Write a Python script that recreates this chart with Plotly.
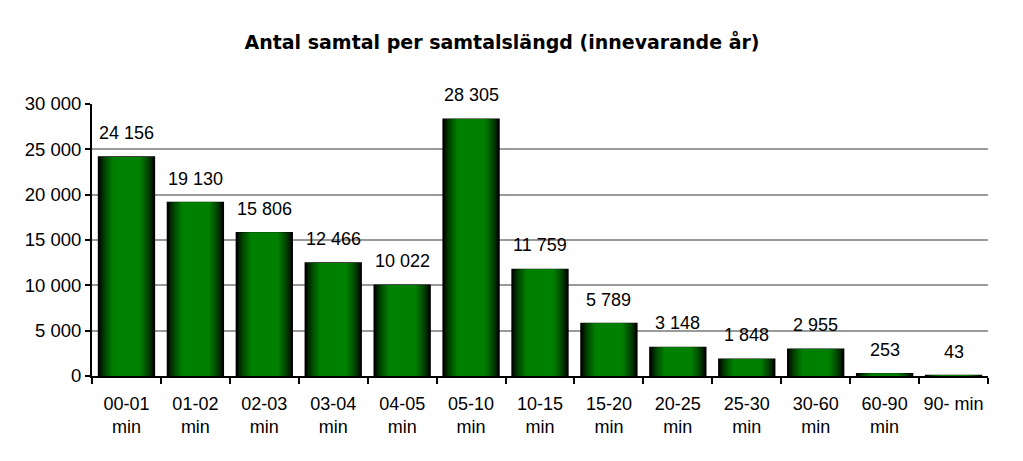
import plotly.graph_objects as go

categories = ["00-01<br>min", "01-02<br>min", "02-03<br>min", "03-04<br>min", "04-05<br>min",
              "05-10<br>min", "10-15<br>min", "15-20<br>min", "20-25<br>min", "25-30<br>min",
              "30-60<br>min", "60-90<br>min", "90- min"]
values = [24156, 19130, 15806, 12466, 10022, 28305, 11759, 5789, 3148, 1848, 2955, 253, 43]
tick_vals = [0, 5000, 10000, 15000, 20000, 25000, 30000]
tick_text = ["0", "5 000", "10 000", "15 000", "20 000", "25 000", "30 000"]
title = "Antal samtal per samtalslängd (innevarande år)"

font = "Liberation Sans, Arial, sans-serif"
fig = go.Figure()

# gradient bars simulated with layered overlaid bars
n_layers = 12
outer_w = 0.81
inner_w = 0.40
for i in range(n_layers):
    t = i / (n_layers - 1)
    w = outer_w - (outer_w - inner_w) * t
    g = int(round(0 + 128 * (t ** 0.7)))
    col = f"rgb(0,{g},0)"
    fig.add_trace(go.Bar(
        x=categories, y=values, width=w,
        marker=dict(color=col,
                    line=dict(color="black", width=1.5 if i == 0 else 0)),
        hoverinfo="skip", showlegend=False,
    ))

def fmt(v):
    return f"{v:,}".replace(",", " ")

for c, v in zip(categories, values):
    fig.add_annotation(x=c, y=v, text=fmt(v), showarrow=False,
                       yanchor="bottom", yshift=12,
                       font=dict(family=font, size=18, color="black"))

fig.update_layout(
    barmode="overlay",
    width=1023, height=461,
    margin=dict(l=84, r=43, t=96, b=93),
    paper_bgcolor="white", plot_bgcolor="white",
    title=dict(text="<b>" + title + "</b>", x=494 / 1023, xanchor="center",
               y=1 - 34 / 461, yanchor="middle",
               font=dict(family="DejaVu Sans, sans-serif", size=19, color="black")),
    font=dict(family=font, size=18, color="black"),
    bargap=0.19,
)
fig.update_yaxes(range=[0, 30000], tickvals=tick_vals, ticktext=tick_text,
                 showgrid=True, gridcolor="#9a9a9a", gridwidth=2,
                 showline=True, linecolor="black", linewidth=2,
                 ticks="outside", ticklen=5, tickwidth=2, tickcolor="black",
                 zeroline=False, fixedrange=True,
                 tickfont=dict(family=font, size=18.5, color="black"))
fig.update_xaxes(showline=True, linecolor="black", linewidth=2,
                 ticks="outside", tickson="boundaries", ticklen=6, tickwidth=2,
                 tickcolor="black", showgrid=False, tickangle=0,
                 ticklabelstandoff=10,
                 tickfont=dict(family=font, size=18, color="black"))

fig.write_html("out.html")
